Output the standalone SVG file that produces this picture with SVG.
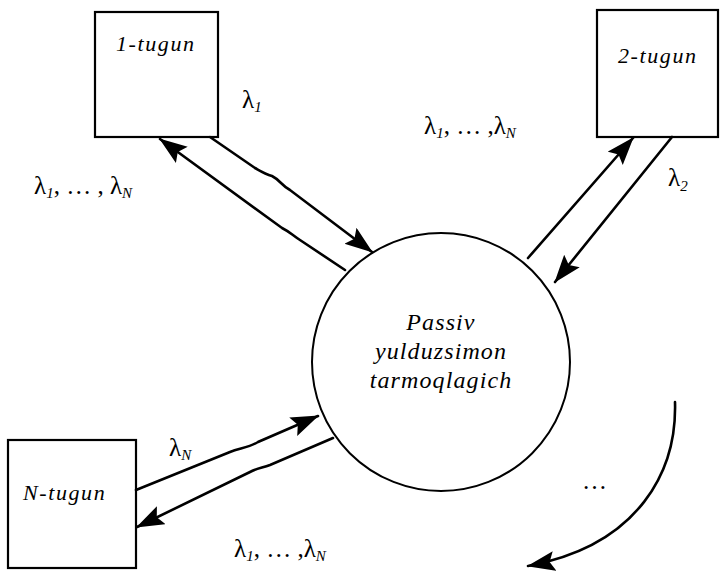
<svg xmlns="http://www.w3.org/2000/svg" width="721" height="572" viewBox="0 0 721 572">
<style>
.box{fill:#fff;stroke:#000;stroke-width:2.2}
.ln{fill:none;stroke:#000;stroke-width:2.6;stroke-linecap:round}
.lbl{font-family:"Liberation Serif","Times New Roman",serif;font-style:italic;font-size:22px;letter-spacing:1.6px;fill:#000}
.ctr{font-family:"Liberation Serif","Times New Roman",serif;font-style:italic;font-size:24px;letter-spacing:1.1px;fill:#000;text-anchor:middle}
.lam{font-family:"Liberation Serif","Times New Roman",serif;font-size:25px;fill:#000}
.sub{font-style:italic;font-size:15px}
</style>
<defs>
<marker id="ah" markerUnits="userSpaceOnUse" markerWidth="30" markerHeight="22" refX="27" refY="10" orient="auto">
<path d="M0,0 L28,10 L0,20 L5,10 z" fill="#000"/>
</marker>
</defs>
<g id="hub">
<circle cx="441" cy="362" r="129" fill="#fff" stroke="#000" stroke-width="2"/>
<text class="ctr" x="441" y="330">Passiv</text>
<text class="ctr" x="441" y="359">yulduzsimon</text>
<text class="ctr" x="441" y="388">tarmoqlagich</text>
</g>
<g id="node1">
<rect class="box" x="95" y="12" width="123" height="125"/>
<text class="lbl" x="116" y="51">1-tugun</text>
</g>
<g id="node2">
<rect class="box" x="597" y="10" width="121" height="127"/>
<text class="lbl" x="618" y="63">2-tugun</text>
</g>
<g id="nodeN">
<rect class="box" x="8" y="440" width="128" height="128"/>
<text class="lbl" x="23" y="500">N-tugun</text>
</g>
<g id="connectors">
<path class="ln" d="M345,270 L300,240 C292,235 290,232 282,228 L160,139" marker-end="url(#ah)"/>
<path class="ln" d="M210,137 L255,168 C262,172 265,174 272,176 C280,180 282,186 290,190 L372,252" marker-end="url(#ah)"/>
<path class="ln" d="M528,258 L633,138" marker-end="url(#ah)"/>
<path class="ln" d="M672,137 L555,282" marker-end="url(#ah)"/>
<path class="ln" d="M136,490 L230,452 C240,448 248,448 258,442 L318,416" marker-end="url(#ah)"/>
<path class="ln" d="M333,438 L270,465 C262,468 258,468 250,472 L137,527" marker-end="url(#ah)"/>
<path class="ln" d="M675,402 C677,470 640,545 528,566" stroke-width="2" marker-end="url(#ah)"/>
</g>
<g id="labels">
<text class="lam" x="242" y="108">λ<tspan class="sub" dy="4">1</tspan></text>
<text class="lam" x="34" y="194">λ<tspan class="sub" dy="4">1</tspan><tspan dy="-4">, … , λ</tspan><tspan class="sub" dy="4">N</tspan></text>
<text class="lam" x="424" y="134">λ<tspan class="sub" dy="4">1</tspan><tspan dy="-4">, … ,λ</tspan><tspan class="sub" dy="4">N</tspan></text>
<text class="lam" x="668" y="186">λ<tspan class="sub" dy="5">2</tspan></text>
<text class="lam" x="169" y="456">λ<tspan class="sub" dy="4">N</tspan></text>
<text class="lam" x="234" y="557">λ<tspan class="sub" dy="4">1</tspan><tspan dy="-4">, … ,λ</tspan><tspan class="sub" dy="4">N</tspan></text>
<text class="lam" x="582" y="489">…</text>
</g>
</svg>
